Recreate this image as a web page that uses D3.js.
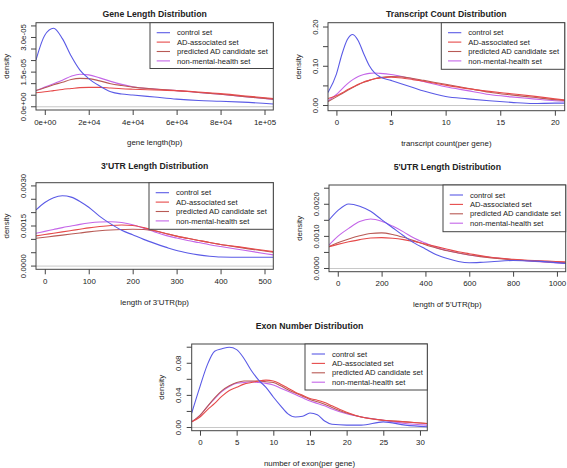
<!DOCTYPE html>
<html><head><meta charset="utf-8">
<script src="https://cdn.jsdelivr.net/npm/d3@7"></script>
<style>
html,body{margin:0;padding:0;background:#fff;}
text{font-family:"Liberation Sans",Arial,sans-serif;fill:#222;}
</style></head>
<body>
<svg id="chart" width="567" height="468"></svg>
<script>
// ---------------- DATA ----------------
const seriesNames = ["control set","AD-associated set","predicted AD candidate set","non-mental-health set"];
const seriesColors = ["#5a5ae6","#e64a4a","#b85a55","#c466e8"];

// Gene length (bp)
const geneX = [-4000,0,4000,8000,12000,16000,20000,25000,30000,35000,40000,50000,60000,70000,80000,90000,104000];
const geneControl = [2.03e-5,3.1e-5,3.4e-5,2.95e-5,2.2e-5,1.59e-5,1.22e-5,0.9e-5,0.65e-5,0.55e-5,0.51e-5,0.42e-5,0.33e-5,0.27e-5,0.24e-5,0.2e-5,0.12e-5];
const geneAD      = [0.61e-5,0.65e-5,0.7e-5,0.75e-5,0.79e-5,0.83e-5,0.84e-5,0.84e-5,0.81e-5,0.78e-5,0.76e-5,0.73e-5,0.7e-5,0.64e-5,0.57e-5,0.48e-5,0.36e-5];
const genePred    = [0.7e-5,0.82e-5,0.95e-5,1.06e-5,1.18e-5,1.23e-5,1.22e-5,1.12e-5,1.0e-5,0.92e-5,0.85e-5,0.77e-5,0.7e-5,0.62e-5,0.54e-5,0.45e-5,0.33e-5];
const geneNon     = [0.7e-5,0.85e-5,1.0e-5,1.15e-5,1.32e-5,1.41e-5,1.38e-5,1.25e-5,1.1e-5,0.97e-5,0.87e-5,0.77e-5,0.7e-5,0.62e-5,0.54e-5,0.45e-5,0.32e-5];

// Transcript count (per gene)
const txX = [-0.77,0,0.5,1,1.5,2,2.5,3,3.5,4,5,6,7,8,10,12,14,16,18,20,20.9];
const txControl = [0.033,0.08,0.13,0.168,0.181,0.165,0.132,0.102,0.083,0.073,0.064,0.055,0.046,0.037,0.023,0.017,0.012,0.008,0.005,0.006,0.006];
const txAD      = [0.018,0.025,0.032,0.04,0.047,0.054,0.06,0.064,0.068,0.07,0.072,0.07,0.066,0.062,0.052,0.043,0.036,0.03,0.024,0.017,0.014];
const txPred    = [0.01,0.022,0.03,0.038,0.046,0.053,0.059,0.064,0.068,0.071,0.074,0.073,0.069,0.064,0.054,0.044,0.034,0.027,0.021,0.015,0.013];
const txNon     = [0.012,0.028,0.042,0.055,0.066,0.074,0.079,0.082,0.083,0.082,0.079,0.074,0.068,0.061,0.048,0.038,0.028,0.022,0.017,0.012,0.011];

// 3'UTR length (bp)
const utr3X = [-20,0,20,40,60,80,100,125,150,175,200,225,250,275,300,325,350,375,400,450,520];
const utr3Control = [0.0021,0.00238,0.00256,0.00263,0.00258,0.00242,0.0022,0.00186,0.00158,0.00134,0.00117,0.001,0.00085,0.00071,0.00058,0.00049,0.00042,0.00037,0.00034,0.00033,0.00033];
const utr3AD      = [0.00113,0.00118,0.00123,0.00128,0.00133,0.00138,0.00143,0.00148,0.00152,0.00154,0.00152,0.00144,0.00133,0.00122,0.00112,0.00104,0.00096,0.00088,0.00081,0.0007,0.00054];
const utr3Pred    = [0.00104,0.00108,0.00112,0.00116,0.0012,0.00124,0.00128,0.00132,0.00135,0.00137,0.00138,0.00137,0.00132,0.00122,0.00112,0.00104,0.00096,0.00088,0.00081,0.00068,0.00052];
const utr3Non     = [0.00123,0.0013,0.00137,0.00144,0.0015,0.00156,0.00161,0.00165,0.00166,0.00163,0.00155,0.00142,0.00128,0.00115,0.00105,0.00096,0.00088,0.0008,0.00073,0.0006,0.00042];

// 5'UTR length (bp)
const utr5X = [-40,0,50,100,150,200,250,300,350,400,450,500,550,600,650,700,800,900,1040];
const utr5Control = [0.00151,0.0018,0.00201,0.00194,0.00178,0.00152,0.00127,0.00102,0.00079,0.00061,0.00043,0.00031,0.00022,0.00018,0.00019,0.00021,0.00025,0.00023,0.00016];
const utr5AD      = [0.00068,0.00075,0.00083,0.0009,0.00095,0.00096,0.00094,0.0009,0.00084,0.00076,0.00068,0.0006,0.00052,0.00046,0.0004,0.00035,0.00029,0.00025,0.00021];
const utr5Pred    = [0.00068,0.0008,0.00092,0.00102,0.00109,0.00111,0.00106,0.00097,0.00086,0.00074,0.00064,0.00055,0.00048,0.00042,0.00037,0.00033,0.00027,0.00023,0.00018];
const utr5Non     = [0.00073,0.001,0.00125,0.00146,0.00154,0.00147,0.00132,0.00114,0.00094,0.00079,0.00065,0.00056,0.00048,0.00042,0.00038,0.00034,0.00027,0.00022,0.00016];

// Exon number (per gene)
const exonX = [-1.13,0,1,2,3,4,5,6,7,8,9,10,11,12,13,14,15,16,17,18,20,22,25,28,31];
const exonControl = [0.018,0.051,0.078,0.095,0.098,0.1,0.097,0.086,0.071,0.059,0.05,0.038,0.027,0.017,0.013,0.014,0.018,0.016,0.008,0.004,0.003,0.003,0.007,0.003,0.001];
const exonAD      = [0.007,0.013,0.022,0.03,0.039,0.046,0.05,0.054,0.056,0.058,0.059,0.058,0.054,0.049,0.044,0.04,0.036,0.034,0.031,0.027,0.019,0.013,0.009,0.007,0.005];
const exonPred    = [0.007,0.015,0.026,0.037,0.046,0.052,0.056,0.058,0.058,0.058,0.057,0.056,0.052,0.047,0.043,0.039,0.035,0.032,0.029,0.025,0.018,0.013,0.009,0.007,0.005];
const exonNon     = [0.007,0.015,0.026,0.036,0.045,0.051,0.055,0.056,0.057,0.056,0.055,0.053,0.049,0.045,0.041,0.037,0.033,0.03,0.027,0.023,0.017,0.013,0.009,0.005,0.003];

// Axis ticks / labels (empty label = unlabeled tick)
const geneXTicks = [0,20000,40000,60000,80000,100000];
const geneXLabels = ["0e+00","2e+04","4e+04","6e+04","8e+04","1e+05"];
const geneYTicks = [0,5e-6,1e-5,1.5e-5,2e-5,2.5e-5,3e-5,3.5e-5];
const geneYLabels = ["0.0e+00","","","1.5e-05","","","3.0e-05",""];
const txXTicks = [0,5,10,15,20];
const txXLabels = ["0","5","10","15","20"];
const txYTicks = [0,0.05,0.1,0.15,0.2];
const txYLabels = ["0.00","","0.10","","0.20"];
const utr3XTicks = [0,100,200,300,400,500];
const utr3XLabels = ["0","100","200","300","400","500"];
const utr3YTicks = [0,0.0005,0.001,0.0015,0.002,0.0025,0.003];
const utr3YLabels = ["0.0000","","","0.0015","","","0.0030"];
const utr5XTicks = [0,200,400,600,800,1000];
const utr5XLabels = ["0","200","400","600","800","1000"];
const utr5YTicks = [0,0.0005,0.001,0.0015,0.002,0.0025];
const utr5YLabels = ["0.0000","","0.0010","","0.0020",""];
const exonXTicks = [0,5,10,15,20,25,30];
const exonXLabels = ["0","5","10","15","20","25","30"];
const exonYTicks = [0,0.02,0.04,0.06,0.08,0.1];
const exonYLabels = ["0.00","","0.04","","0.08",""];

// ---------------- LAYOUT ----------------
const panels = [
  {title:"Gene Length Distribution", xlab:"gene length(bp)", box:[36,22.7,273.3,110], xd:[-4000,104000], yd:[-1.4e-6,3.64e-5],
   x:geneX, ys:[geneControl,geneAD,genePred,geneNon], xt:geneXTicks, xl:geneXLabels, yt:geneYTicks, yl:geneYLabels,
   leg:[150,22.7,273.3,68.5], titleY:14},
  {title:"Transcript Count Distribution", xlab:"transcript count(per gene)", box:[328,22.7,564.7,110.7], xd:[-0.77,20.9], yd:[-0.0132,0.211],
   x:txX, ys:[txControl,txAD,txPred,txNon], xt:txXTicks, xl:txXLabels, yt:txYTicks, yl:txYLabels,
   leg:[441.3,22.7,564.7,69.3], titleY:14},
  {title:"3'UTR Length Distribution", xlab:"length of 3'UTR(bp)", box:[36,182.7,273.3,269.3], xd:[-20,520], yd:[-0.00012,0.00312],
   x:utr3X, ys:[utr3Control,utr3AD,utr3Pred,utr3Non], xt:utr3XTicks, xl:utr3XLabels, yt:utr3YTicks, yl:utr3YLabels,
   leg:[149,182.7,273.3,229.3], titleY:166},
  {title:"5'UTR Length Distribution", xlab:"length of 5'UTR(bp)", box:[329,185,565.7,271.7], xd:[-40,1040], yd:[-0.0001,0.0026],
   x:utr5X, ys:[utr5Control,utr5AD,utr5Pred,utr5Non], xt:utr5XTicks, xl:utr5XLabels, yt:utr5YTicks, yl:utr5YLabels,
   leg:[443,185,565.7,231.7], titleY:167.3},
  {title:"Exon Number Distribution", xlab:"number of exon(per gene)", box:[191.7,344,427.3,430.7], xd:[-1.13,31.0], yd:[-0.004,0.104],
   x:exonX, ys:[exonControl,exonAD,exonPred,exonNon], xt:exonXTicks, xl:exonXLabels, yt:exonYTicks, yl:exonYLabels,
   leg:[305,344,427.3,390], titleY:325.7}
];

const svg = d3.select("#chart");
svg.append("rect").attr("width",567).attr("height",468).attr("fill","#fff");
const FS = 7.9;
const LFS = 7.6;

panels.forEach((p,pi)=>{
  const [x0,y0,x1,y1] = p.box;
  const xs = d3.scaleLinear().domain(p.xd).range([x0,x1]);
  const ys = d3.scaleLinear().domain(p.yd).range([y1,y0]);
  const g = svg.append("g");

  const cid = "clip"+pi;
  svg.append("clipPath").attr("id",cid).append("rect").attr("x",x0).attr("y",y0).attr("width",x1-x0).attr("height",y1-y0);

  // zero line
  g.append("line").attr("x1",x0).attr("x2",x1).attr("y1",ys(0)).attr("y2",ys(0))
    .attr("stroke","#c8c8c8").attr("stroke-width",1);

  // curves
  const line = d3.line().x((d,i)=>xs(p.x[i])).y(d=>ys(d)).curve(d3.curveMonotoneX);
  const cg = g.append("g").attr("clip-path",`url(#${cid})`);
  [3,2,1,0].forEach(si=>{
    cg.append("path").datum(p.ys[si]).attr("d",line).attr("fill","none")
      .attr("stroke",seriesColors[si]).attr("stroke-width",1.1);
  });

  // x axis
  const xa = d3.axisBottom(xs).tickValues(p.xt).tickSize(5).tickFormat((d,i)=>p.xl[i]);
  const xg = g.append("g").attr("transform",`translate(0,${y1})`).call(xa);
  xg.select(".domain").remove();
  xg.selectAll("line").attr("stroke","#444");
  xg.selectAll("text").attr("font-size",FS).attr("fill","#222").attr("y",9);

  // y axis
  const ya = d3.axisLeft(ys).tickValues(p.yt).tickSize(5).tickFormat((d,i)=>p.yl[i]);
  const yg = g.append("g").attr("transform",`translate(${x0},0)`).call(ya);
  yg.select(".domain").remove();
  yg.selectAll(".tick").attr("transform",null);
  yg.selectAll(".tick line").attr("stroke","#444").attr("y1",d=>ys(d)).attr("y2",d=>ys(d));
  yg.selectAll(".tick text").attr("font-size",FS).attr("fill","#222")
    .attr("text-anchor","middle").attr("dy","0.35em").attr("x",0).attr("y",0)
    .attr("transform",d=>`translate(-13,${ys(d)}) rotate(-90)`);

  // box
  g.append("rect").attr("x",x0).attr("y",y0).attr("width",x1-x0).attr("height",y1-y0)
    .attr("fill","none").attr("stroke","#444").attr("stroke-width",1);

  // titles & labels
  g.append("text").attr("x",(x0+x1)/2).attr("y",p.titleY).attr("dy","0.35em").attr("text-anchor","middle")
    .attr("font-size",8.7).attr("font-weight","bold").attr("fill","#111").text(p.title);
  g.append("text").attr("x",(x0+x1)/2).attr("y",y1+32.5).attr("dy","0.35em").attr("text-anchor","middle")
    .attr("font-size",FS).text(p.xlab);
  g.append("text").attr("transform",`translate(${x0-30},${(y0+y1)/2}) rotate(-90)`).attr("dy","0.35em")
    .attr("text-anchor","middle").attr("font-size",FS).text("density");

  // legend
  const [lx0,ly0,lx1,ly1] = p.leg;
  g.append("rect").attr("x",lx0).attr("y",ly0).attr("width",lx1-lx0).attr("height",ly1-ly0)
    .attr("fill","#fff").attr("stroke","#444").attr("stroke-width",1);
  seriesNames.forEach((n,i)=>{
    const yy = ly0+10+i*9.4;
    g.append("line").attr("x1",lx0+6.7).attr("x2",lx0+20).attr("y1",yy).attr("y2",yy)
      .attr("stroke",seriesColors[i]).attr("stroke-width",1.1);
    g.append("text").attr("x",lx0+27).attr("y",yy).attr("dy","0.35em").attr("font-size",LFS).text(n);
  });
});
</script>
</body></html>
